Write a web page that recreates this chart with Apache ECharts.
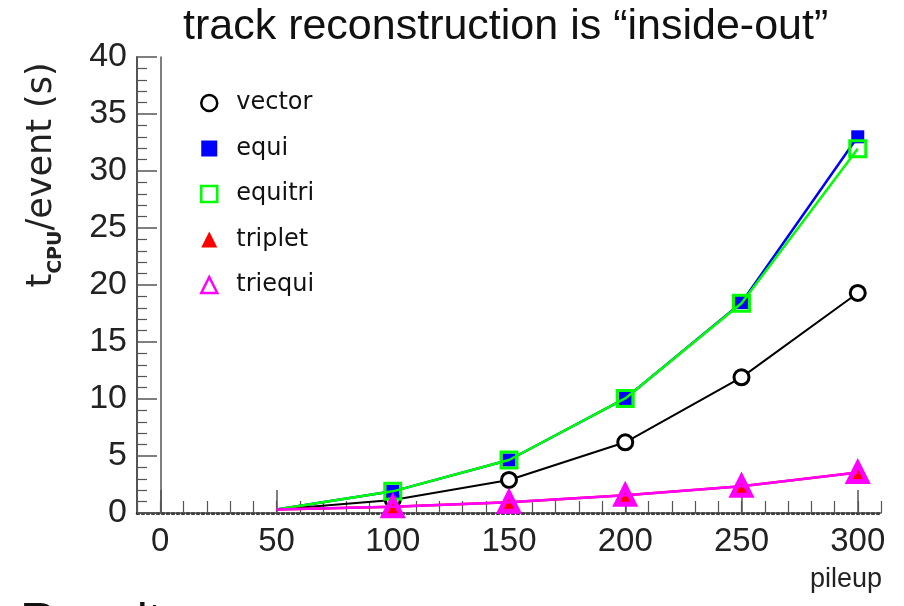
<!DOCTYPE html>
<html><head><meta charset="utf-8">
<script src="https://cdn.jsdelivr.net/npm/echarts@6/dist/echarts.min.js"></script>
<style>html,body{margin:0;padding:0;background:#fff}#c{width:904px;height:606px}</style>
</head><body><div id="c"></div>
<script>
const pileup = [50, 100, 150, 200, 250, 300];
const vector  = [0.3, 1.15, 2.9, 6.2, 11.9, 19.3];
const equi    = [0.3, 1.9, 4.65, 10.05, 18.45, 33.0];
const equitri = [0.3, 1.9, 4.65, 10.05, 18.4, 31.95];
const triplet = [0.3, 0.55, 0.95, 1.55, 2.35, 3.55];
const triequi = [0.3, 0.55, 0.95, 1.55, 2.35, 3.55];
const xMajorTicks = [0, 50, 100, 150, 200, 250, 300];
const xMinorTicks = [-10,0,10,20,30,40,50,60,70,80,90,100,110,120,130,140,150,160,170,180,190,200,210,220,230,240,250,260,270,280,290,300,310];
const titleText = 'track reconstruction is \u201cinside-out\u201d';

const chart = echarts.init(document.getElementById('c'));
function pts(vals){ return pileup.map((p,i)=> i===0 ? {value:[p,vals[i]], symbolSize:0} : [p,vals[i]]); }
const sans = "'Liberation Sans',Arial,sans-serif";
const round = "'DejaVu Sans',sans-serif";
const gray = '#555';
const X0 = -10, X1 = 310;

chart.setOption({
  animation: false,
  backgroundColor: '#fff',
  grid: { left: 137, right: 23, top: 57, bottom: 93 },
  graphic: [
    { type:'text', left: 183, top: 6, style:{ text: titleText, font: "43px " + sans, fill:'#111' } },
    { type:'text', x: 42, y: 175, rotation: Math.PI/2,
      style:{ text:'{t|t}{s|CPU}{t|/event (s)}', align:'center', verticalAlign:'middle',
        rich:{ t:{ fontFamily:round, fontSize:35, fill:'#222', verticalAlign:'bottom' },
               s:{ fontFamily:round, fontSize:19, fontWeight:'bold', fill:'#222', verticalAlign:'bottom', padding:[0,0,-6,0] } } } },
    { type:'text', right: 22, top: 566, style:{ text:'pileup', font: "27px " + sans, fill:'#222' } },
    { type:'text', left: 20, top: 599, style:{ text:'Results', font: "50px " + sans, fill:'#111' } }
  ],
  legend: {
    orient:'vertical', left: 195, top: 86, itemWidth: 16, itemHeight: 16, itemGap: 21.5,
    textStyle:{ fontFamily: round, fontSize: 24, color:'#111', padding:[0,0,0,14] },
    data:[
      { name:'vector', icon:'circle', itemStyle:{ color:'#fff', borderColor:'#000', borderWidth:2.5 } },
      { name:'equi', icon:'rect', itemStyle:{ color:'#0000ff', borderWidth:0 } },
      { name:'equitri', icon:'rect', itemStyle:{ color:'#fff', borderColor:'#00ff00', borderWidth:2.5 } },
      { name:'triplet', icon:'triangle', itemStyle:{ color:'#ff0000', borderWidth:0 } },
      { name:'triequi', icon:'triangle', itemStyle:{ color:'#fff', borderColor:'#ff00ff', borderWidth:2.5 } }
    ]
  },
  xAxis: [
    { type:'value', min:X0, max:X1, position:'bottom',
      axisLine:{ show:true, onZero:false, lineStyle:{ color:'#000', width:2.5, type:[2,3] } },
      axisTick:{ show:true, inside:true, length:23, customValues: xMajorTicks, lineStyle:{ color:gray, width:1.5 } },
      axisLabel:{ customValues: xMajorTicks, margin: 12, fontFamily: sans, fontSize: 33, color:'#222' },
      splitLine:{ show:false } },
    { type:'value', min:X0, max:X1, position:'bottom',
      axisLine:{ show:false },
      axisTick:{ show:true, inside:true, length:12, customValues: xMinorTicks, lineStyle:{ color:gray, width:1.2 } },
      axisLabel:{ show:false }, splitLine:{ show:false } },
    { type:'value', min:X0, max:X1, position:'top',
      axisLine:{ show:true, lineStyle:{ color:gray, width:1.5 } },
      axisTick:{ show:false }, axisLabel:{ show:false }, splitLine:{ show:false } }
  ],
  yAxis: [
    { type:'value', min:0, max:40, interval:5, position:'left',
      axisLine:{ show:true, onZero:false, lineStyle:{ color:gray, width:2 } },
      axisTick:{ show:true, inside:true, length:20, lineStyle:{ color:gray, width:1.5 } },
      minorTick:{ show:true, splitNumber:5, length:10, lineStyle:{ color:gray, width:1.2 } },
      axisLabel:{ margin: 10, fontFamily: sans, fontSize: 34, color:'#222' },
      splitLine:{ show:false } },
    { type:'value', min:0, max:40, position:'right',
      axisLine:{ show:true, lineStyle:{ color:gray, width:1.5 } },
      axisTick:{ show:false }, axisLabel:{ show:false }, splitLine:{ show:false } }
  ],
  series: [
    { name:'vector', type:'line', data: pts(vector), symbol:'circle', symbolSize:15,
      itemStyle:{ color:'#fff', borderColor:'#000', borderWidth:3 }, lineStyle:{ color:'#000', width:2 }, z:3 },
    { name:'equi', type:'line', data: pts(equi), symbol:'rect', symbolSize:13,
      itemStyle:{ color:'#0000ff', borderWidth:0 }, lineStyle:{ color:'#0000ff', width:2.5 }, z:4 },
    { name:'equitri', type:'line', data: pts(equitri), symbol:'rect', symbolSize:16,
      itemStyle:{ color:'rgba(0,0,0,0)', borderColor:'#00ff00', borderWidth:3 }, lineStyle:{ color:'#00ff00', width:2.5 }, z:5 },
    { name:'triplet', type:'line', data: pts(triplet), symbol:'triangle', symbolSize:18,
      itemStyle:{ color:'#ff0000', borderWidth:0 }, lineStyle:{ color:'#ff0000', width:2.5 }, z:6 },
    { name:'triequi', type:'line', data: pts(triequi), symbol:'triangle', symbolSize:18,
      itemStyle:{ color:'rgba(0,0,0,0)', borderColor:'#ff00ff', borderWidth:5 }, lineStyle:{ color:'#ff00ff', width:2.5 }, z:7 }
  ]
});
</script>
</body></html>
